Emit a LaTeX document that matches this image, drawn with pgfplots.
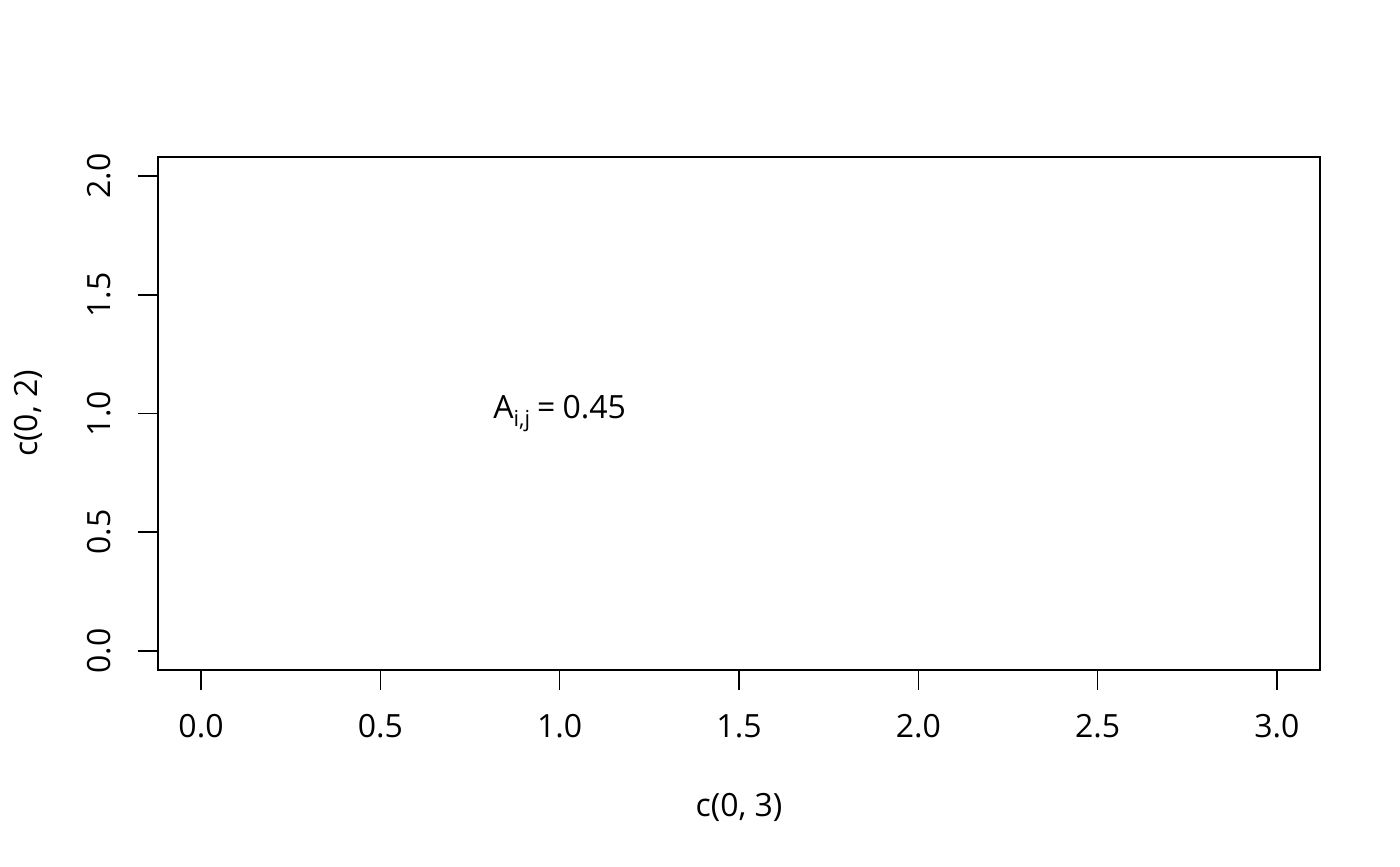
\documentclass[border=0pt]{standalone}
\usepackage{fontspec}
\setmainfont{Open Sans}
\usepackage{pgfplots}
\pgfplotsset{compat=1.18}
\begin{document}
\fontsize{16}{19}\selectfont
\begin{tikzpicture}
\useasboundingbox (-79pt,-98pt) rectangle (621pt,335pt);
\begin{axis}[
    at={(0,0)}, anchor=south west,
    scale only axis,
    width=581pt, height=256.5pt,
    xmin=-0.12, xmax=3.12,
    ymin=-0.08, ymax=2.08,
    xtick={0,0.5,1,1.5,2,2.5,3},
    ytick={0,0.5,1,1.5,2},
    xtick pos=bottom, ytick pos=left,
    tick align=outside,
    major tick length=10pt,
    axis line style={line width=0.8pt},
    tick style={line width=0.8pt, black},
    /pgf/number format/.cd, fixed, fixed zerofill, precision=1, assume math mode=true,
    /pgfplots/.cd,
    xticklabel style={anchor=center, yshift=-18pt},
    yticklabel style={rotate=90, anchor=center, yshift=19.5pt},
    every axis x label/.style={at={(rel axis cs:0.5,0)}, anchor=center, yshift=-68.5pt},
    every axis y label/.style={at={(rel axis cs:0,0.5)}, anchor=center, rotate=90, yshift=65pt},
    xlabel={c(0, 3)},
    ylabel={c(0, 2)},
]
\node[anchor=center, inner sep=0pt] at (axis cs:1,1) {A\raisebox{-0.45ex}{\fontsize{11}{13}\selectfont i,j}\hspace{0.22em}=\hspace{0.22em}0.45};
\end{axis}
\end{tikzpicture}
\end{document}
